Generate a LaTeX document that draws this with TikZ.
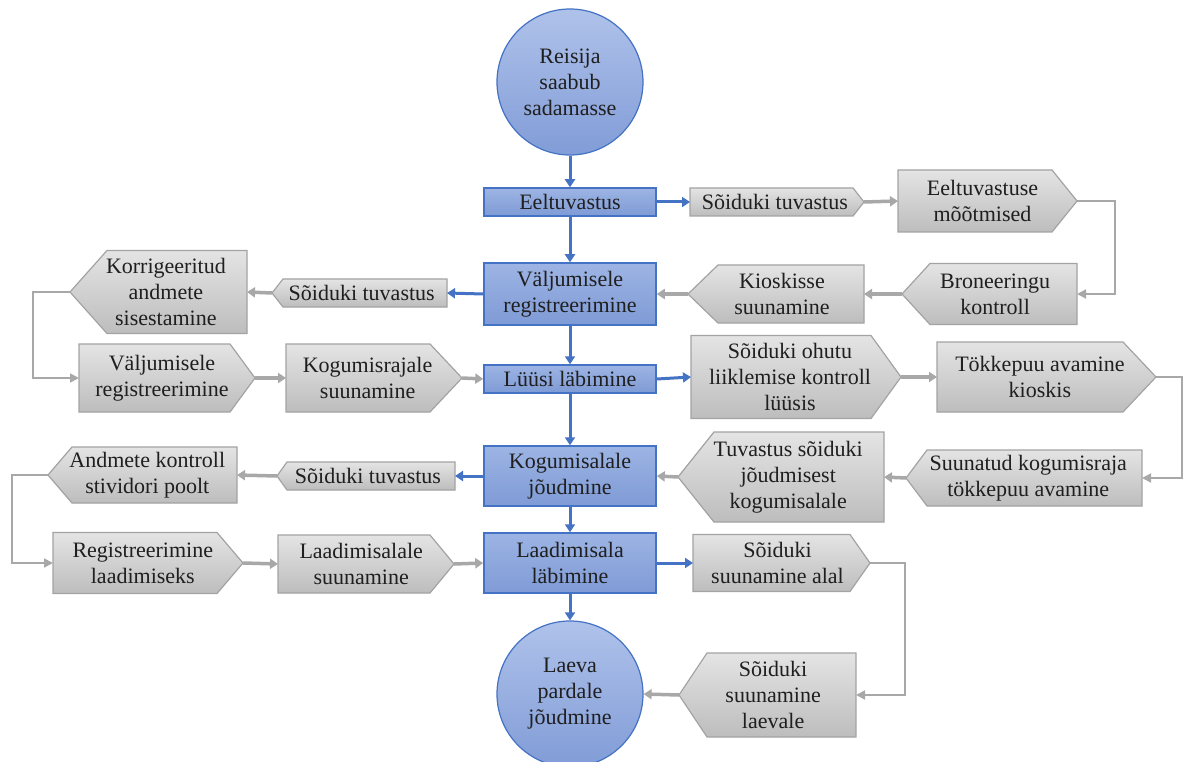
\documentclass[tikz,border=0pt]{standalone}
\usepackage{fontspec}
\setmainfont{Liberation Serif}
\usetikzlibrary{arrows.meta}
\definecolor{bline}{HTML}{4472C4}
\definecolor{btop}{HTML}{9DB4E4}
\definecolor{bbot}{HTML}{7F9BD6}
\definecolor{ctop}{HTML}{AFC2EA}
\definecolor{cbot}{HTML}{819CD7}
\definecolor{gtop}{HTML}{E4E4E4}
\definecolor{gbot}{HTML}{BDBDBD}
\definecolor{gborder}{HTML}{A3A3A3}
\definecolor{garrow}{HTML}{A8A8A8}
\tikzset{
 txt/.style={inner sep=0pt, align=center, font=\fontsize{22}{26}\selectfont, text=black!88},
 gshape/.style={draw=gborder, line width=1.2pt, top color=gtop, bottom color=gbot},
 bbox/.style={txt, draw=bline, line width=1.5pt, top color=btop, bottom color=bbot, minimum width=172pt},
 circ/.style={txt, circle, draw=bline, line width=1.2pt, top color=ctop, bottom color=cbot, minimum size=146pt},
 barr/.style={draw=bline, line width=3pt, -{Triangle[length=8pt,width=10pt]}},
 garr/.style={draw=garrow, line width=3.5pt, -{Triangle[length=8pt,width=10pt]}},
 gelb/.style={draw=garrow, line width=1.8pt, -{Triangle[length=9pt,width=9pt]}},
}
% right-pointing: name, x-left, x-flat-right, x-tip, y-center, height, text
\newcommand\pentR[7]{%
  \path[gshape] ({#2},{#5-#6/2}) -- ({#3},{#5-#6/2}) -- ({#4},{#5}) -- ({#3},{#5+#6/2}) -- ({#2},{#5+#6/2}) -- cycle;
  \node[txt] (#1) at ({(#2+#4)/2-(#4-#3)*0.2},{#5}) {#7};
  \coordinate (#1-in) at ({#2},{#5});
  \coordinate (#1-out) at ({#4},{#5});
}
% left-pointing: name, x-tip, x-flat-left, x-right, y-center, height, text
\newcommand\pentL[7]{%
  \path[gshape] ({#2},{#5}) -- ({#3},{#5-#6/2}) -- ({#4},{#5-#6/2}) -- ({#4},{#5+#6/2}) -- ({#3},{#5+#6/2}) -- cycle;
  \node[txt] (#1) at ({(#2+#4)/2+(#3-#2)*0.2},{#5}) {#7};
  \coordinate (#1-in) at ({#4},{#5});
  \coordinate (#1-out) at ({#2},{#5});
}
\begin{document}
\begin{tikzpicture}[x=1pt,y=-1pt]
\useasboundingbox (0,0) rectangle (1192,762);
\fill[white] (0,0) rectangle (1192,762);

% main column
\node[circ] (start) at (570,82) {Reisija\\saabub\\sadamasse};
\node[bbox, minimum height=28pt] (eelt) at (570,202) {Eeltuvastus};
\node[bbox, minimum height=62pt] (valj) at (570,294) {Väljumisele\\registreerimine};
\node[bbox, minimum height=28pt] (luus) at (570,379) {Lüüsi läbimine};
\node[bbox, minimum height=60pt] (kog) at (570,476) {Kogumisalale\\jõudmine};
\node[bbox, minimum height=60pt] (laad) at (570,563) {Laadimisala\\läbimine};
\node[circ] (end) at (570,694) {Laeva\\pardale\\jõudmine};

% row A
\pentR{sd1}{690}{853}{864}{202}{28}{Sõiduki tuvastus}
\pentR{eel}{898}{1052}{1077}{201}{62}{Eeltuvastuse\\mõõtmised}
% row B
\pentL{bron}{902}{930}{1077}{294}{61}{Broneeringu\\kontroll}
\pentL{kiosk}{688}{718}{864}{294}{58}{Kioskisse\\suunamine}
\pentL{sd2}{272}{283}{447}{293}{28}{Sõiduki tuvastus}
\pentL{korr}{70}{107}{247}{292}{83}{Korrigeeritud\\andmete\\sisestamine}
% row C
\pentR{valjg}{79}{230}{255}{378}{68}{Väljumisele\\registreerimine}
\pentR{kogr}{286}{430}{462}{378}{68}{Kogumisrajale\\suunamine}
\pentR{ohutu}{691}{871}{901}{377}{83}{Sõiduki ohutu\\liiklemise kontroll\\lüüsis}
\pentR{tokk}{937}{1123}{1156}{377}{70}{Tökkepuu avamine\\kioskis}
% row D
\pentL{suun}{906}{927}{1142}{478}{56}{Suunatud kogumisraja\\tökkepuu avamine}
\pentL{tuv}{678}{714}{884}{477}{90}{Tuvastus sõiduki\\jõudmisest\\kogumisalale}
\pentL{sd3}{277}{287}{455}{476}{28}{Sõiduki tuvastus}
\pentL{andm}{48}{72}{237}{475}{56}{Andmete kontroll\\stividori poolt}
% row E
\pentR{regl}{53}{217}{243}{563}{61}{Registreerimine\\laadimiseks}
\pentR{laadsu}{278}{430}{454}{564}{58}{Laadimisalale\\suunamine}
\pentR{ssa}{693}{850}{870}{563}{57}{Sõiduki\\suunamine alal}
% row F
\pentL{ssl}{679}{707}{856}{695}{84}{Sõiduki\\suunamine\\laevale}

% blue connectors
\draw[barr] (start) -- (eelt);
\draw[barr] (eelt) -- (valj);
\draw[barr] (valj) -- (luus);
\draw[barr] (luus) -- (kog);
\draw[barr] (kog) -- (laad);
\draw[barr] (laad) -- (end);
\draw[barr] (eelt.east) -- (sd1-in);
\draw[barr] (valj.west) -- (sd2-in);
\draw[barr] (luus.east) -- (ohutu-in);
\draw[barr] (kog.west) -- (sd3-in);
\draw[barr] (laad.east) -- (ssa-in);

% gray straight connectors
\draw[garr] (sd1-out) -- (eel-in);
\draw[garr] (bron-out) -- (kiosk-in);
\draw[garr] (kiosk-out) -- (valj.east);
\draw[garr] (sd2-out) -- (korr-in);
\draw[garr] (valjg-out) -- (kogr-in);
\draw[garr] (kogr-out) -- (luus.west);
\draw[garr] (ohutu-out) -- (tokk-in);
\draw[garr] (suun-out) -- (tuv-in);
\draw[garr] (tuv-out) -- (kog.east);
\draw[garr] (sd3-out) -- (andm-in);
\draw[garr] (regl-out) -- (laadsu-in);
\draw[garr] (laadsu-out) -- (laad.west);
\draw[garr] (ssl-out) -- (end.east);

% gray elbow connectors
\draw[gelb] (eel-out) -- ++(38,0) |- (bron-in);
\draw[gelb] (korr-out) -- ++(-37,0) |- (valjg-in);
\draw[gelb] (tokk-out) -- ++(26,0) |- (suun-in);
\draw[gelb] (andm-out) -- ++(-36,0) |- (regl-in);
\draw[gelb] (ssa-out) -- ++(35,0) |- (ssl-in);
\end{tikzpicture}
\end{document}
